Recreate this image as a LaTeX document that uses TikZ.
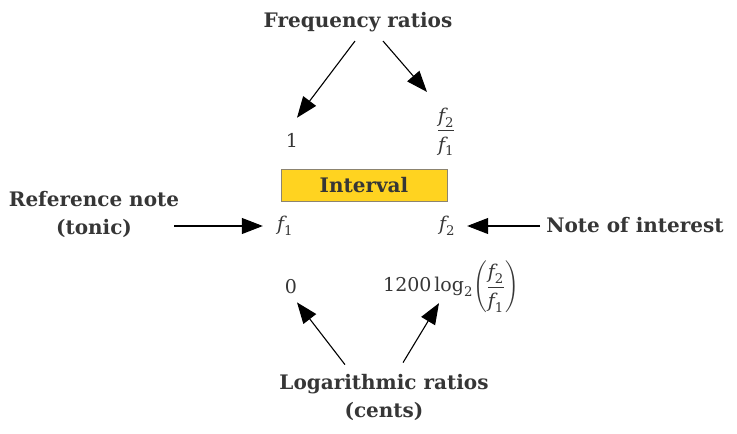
\documentclass[tikz,border=0pt]{standalone}
\usepackage{amsmath}
\usepackage{fontspec}
\setmainfont{DejaVu Serif}
\usetikzlibrary{arrows.meta}
\definecolor{txt}{HTML}{363636}
\definecolor{gold}{HTML}{FFD320}
\definecolor{boxline}{HTML}{8C8470}
\newcommand{\fq}[1]{\textit{f}_{\text{#1}}}
\newcommand{\fqratio}{\dfrac{\rule[-0.3em]{0pt}{0.8em}\fq{2}}{\rule{0pt}{0.95em}\fq{1}}}
\begin{document}
\begin{tikzpicture}[x=1pt,y=-1pt,
    tag/.style={font=\fontsize{20}{28}\selectfont\bfseries, text=txt, align=center, inner sep=0pt},
    val/.style={font=\fontsize{19}{24}\selectfont, text=txt, inner sep=0pt},
    intbox/.style={draw=boxline, fill=gold, line width=0.8pt, minimum width=166pt, minimum height=32pt,
      font=\fontsize{20}{24}\selectfont\bfseries, text=txt},
    pointer/.style={-{Triangle[length=21pt,width=16pt]}, line width=1.1pt}]
  \useasboundingbox (0,0) rectangle (737,434);

  \node[tag] (freq) at (358,22) {Frequency ratios};
  \node[val] (one) at (292,140) {1};
  \node[val] (ratio) at (446,132) {$\fqratio$};
  \node[intbox] (interval) at (364,185.5) {Interval};
  \node[val] (f1) at (285,226) {$\fq{1}$};
  \node[val] (f2) at (447,226) {$\fq{2}$};
  \node[tag] (ref) at (94,214) {Reference note\\(tonic)};
  \node[tag] (note) at (635,225) {Note of interest};
  \node[val] (zero) at (291,287) {0};
  \node[val] (cents) at (451,287) {$\text{1200}\log_{\text{2}}\!\left(\fqratio\right)$};
  \node[tag] (log) at (384,397) {Logarithmic ratios\\(cents)};

  \draw[pointer] ([shift={(-3,9)}]freq.south) -- ([shift={(5,-15)}]one.north);
  \draw[pointer] ([shift={(25,9)}]freq.south) -- ([shift={(-19,-16)}]ratio.north);
  \draw[pointer, shorten <=-5pt] (ref.east |- f1.west) -- ([xshift=-14pt]f1.west);
  \draw[pointer, shorten <=6pt] (note.west |- f2.east) -- ([xshift=12pt]f2.east);
  \draw[pointer] ([shift={(-39,-9)}]log.north) -- ([shift={(6,8)}]zero.south);
  \draw[pointer] ([shift={(19,-11)}]log.north) -- ([shift={(-12,-10)}]cents.south);
\end{tikzpicture}
\end{document}
